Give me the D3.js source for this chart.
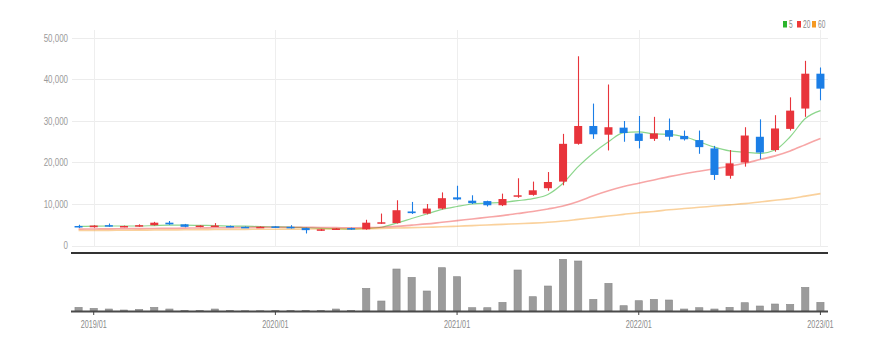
<!DOCTYPE html>
<html>
<head>
<meta charset="utf-8">
<script src="https://cdn.jsdelivr.net/npm/d3@7"></script>
<style>
  html, body { margin: 0; padding: 0; background: #fff; }
  svg { display: block; }
  text { font-family: "Liberation Sans", Arial, sans-serif; }
</style>
</head>
<body>
<svg id="chart" width="875" height="350"></svg>
<script>
// Monthly candles, 2018/12 – 2023/01
const months = d3.range(50).map(i => {
  const d = new Date(2018, 11 + i, 1);
  return d3.timeFormat("%Y/%m")(d);
});

const opens  = [4700,4400,4900,4500,4600,4900,5500,5100,4500,4700,4700,4500,4400,4600,4500,4200,3600,3900,4200,3900,
                5300,5400,8200,7700,8900,11600,10800,10700,9700,11900,12200,13800,15400,24500,28800,26700,28400,27000,25700,27800,
                26400,25400,23400,16800,20000,26200,23000,28100,33000,41400];
const highs  = [5000,4900,5300,4800,5100,5700,5900,5200,4900,5400,4800,4600,4600,4700,4900,4300,4000,4200,4300,6200,
                7700,10900,10500,10000,12800,14400,12100,10800,12500,16200,15400,17700,26900,45600,34200,38800,30000,31200,31000,30600,
                27700,27700,24000,23000,28500,30400,31400,35700,44500,42900];
const lows   = [4200,4300,4500,4400,4500,4800,5000,4400,4400,4600,4400,4300,4300,4300,4100,2900,3500,3900,3800,3800,
                5200,5300,7600,7500,8700,10900,10000,9400,9500,11500,12000,13200,14500,24300,25700,22900,25000,23400,25200,25300,
                25300,22100,15800,16100,19000,20800,22600,27700,31000,35000];
const closes = [4400,4800,4600,4700,4900,5500,5100,4500,4800,4800,4500,4400,4500,4400,4200,3700,3900,4100,3900,5500,
                5600,8500,7800,8900,11400,11100,10200,9700,11200,12100,13300,15300,24500,28800,26800,28500,27100,25200,27000,26200,
                25600,23700,17000,19800,26500,22400,28200,32500,41400,37800];
const volumes = [370,270,200,100,170,370,200,70,70,200,70,30,30,70,70,70,70,200,70,2270,
                 1000,4200,3370,2000,4330,3430,330,330,870,4100,1430,2500,5170,5000,1170,2770,530,1030,1170,1100,
                 200,330,200,370,830,500,700,670,2370,870];

// Moving averages of the close (5, 20 and 60 months)
const ma5  = [4600,4650,4700,4700,4700,4800,4900,4900,4850,4800,4700,4650,4550,4500,4450,4300,4150,4050,3950,4100,
              4400,5400,6500,7600,8700,9400,10000,10200,10400,10800,11300,12300,15000,19000,22300,25000,27200,27400,26900,26800,
              26200,25000,23700,22800,22500,22200,23000,26200,30600,32500];
const ma20 = [3950,3980,4010,4040,4070,4100,4140,4180,4220,4260,4300,4340,4380,4400,4400,4380,4340,4300,4250,4300,
              4400,4600,4900,5200,5600,6000,6400,6800,7200,7700,8200,8800,9500,10600,12000,13200,14200,15000,15800,16600,
              17300,17900,18500,19100,19800,20700,21600,22800,24300,25800];
const ma60 = [3600,3620,3650,3680,3700,3730,3760,3790,3820,3850,3870,3890,3910,3930,3950,3960,3970,3980,4000,4050,
              4100,4200,4300,4400,4500,4650,4800,4950,5100,5250,5400,5600,5900,6300,6700,7100,7500,7900,8200,8600,
              8900,9200,9500,9800,10100,10500,10900,11300,11900,12500];

const priceTicks = [0, 10000, 20000, 30000, 40000, 50000];
const yearTicks = ["2019/01", "2020/01", "2021/01", "2022/01", "2023/01"];
const legendItems = ["5", "20", "60"];

const UP = "#e8343b", DOWN = "#1b7ee6";
const maColors = ["#2db52d", "#ee3a3a", "#f59a23"];

const svg = d3.select("#chart");
const left = 71, right = 828;

const x = d3.scaleBand().domain(months).range([left, right]).paddingInner(0.47).paddingOuter(0.235);
const xc = m => x(m) + x.bandwidth() / 2;
const y = d3.scaleLinear().domain([0, 50000]).range([245.5, 38]);
const yv = d3.scaleLinear().domain([0, 5400]).range([311, 257]);

// horizontal grid + vertical year lines
const grid = svg.append("g");
grid.selectAll("line.h").data(priceTicks).join("line")
  .attr("x1", left + 1).attr("x2", right)
  .attr("y1", d => Math.round(y(d)) + 0.5).attr("y2", d => Math.round(y(d)) + 0.5)
  .attr("stroke", "#ececec").attr("stroke-width", 1);
grid.selectAll("line.v").data(yearTicks).join("line")
  .attr("x1", d => Math.round(xc(d)) + 0.5).attr("x2", d => Math.round(xc(d)) + 0.5)
  .attr("y1", 30).attr("y2", 247)
  .attr("stroke", "#eeeeee").attr("stroke-width", 1);

// price labels (condensed)
svg.append("g").selectAll("text").data(priceTicks).join("text")
  .attr("transform", d => `translate(68,${y(d) + 3.5}) scale(0.76,1)`)
  .attr("text-anchor", "end").attr("font-size", 10.5).attr("fill", "#9a9a9a")
  .text(d => d3.format(",")(d));

// moving average lines
const maSeries = [ma5, ma20, ma60];
const line = d3.line().x((d, i) => xc(months[i])).y(d => y(d)).curve(d3.curveMonotoneX);
svg.append("g").selectAll("path").data(maSeries).join("path")
  .attr("d", d => line(d))
  .attr("fill", "none")
  .attr("stroke", (d, i) => maColors[i])
  .attr("stroke-opacity", (d, i) => i === 0 ? 0.55 : 0.45)
  .attr("stroke-width", (d, i) => i === 0 ? 1.2 : 1.6);

// candles
const candles = svg.append("g").selectAll("g").data(months).join("g");
const colorOf = i => closes[i] >= opens[i] ? UP : DOWN;
candles.append("line")
  .attr("x1", (m) => Math.round(xc(m)) + 0.5).attr("x2", (m) => Math.round(xc(m)) + 0.5)
  .attr("y1", (m, i) => y(highs[i])).attr("y2", (m, i) => y(lows[i]))
  .attr("stroke", (m, i) => colorOf(i)).attr("stroke-width", 1.1);
candles.append("rect")
  .attr("x", m => x(m)).attr("width", x.bandwidth())
  .attr("y", (m, i) => y(Math.max(opens[i], closes[i])))
  .attr("height", (m, i) => Math.max(1.5, Math.abs(y(opens[i]) - y(closes[i]))))
  .attr("fill", (m, i) => colorOf(i));

// pane separator
svg.append("line").attr("x1", left).attr("x2", right).attr("y1", 253).attr("y2", 253)
  .attr("stroke", "#333").attr("stroke-width", 2);

// volume bars
const vbw = x.bandwidth() * 0.9;
svg.append("g").selectAll("rect").data(months).join("rect")
  .attr("x", m => xc(m) - vbw / 2).attr("width", vbw)
  .attr("y", (m, i) => yv(volumes[i])).attr("height", (m, i) => yv(0) - yv(volumes[i]))
  .attr("fill", "#9b9b9b").attr("stroke", "#8a8a8a").attr("stroke-width", 0.6);

// volume baseline and x axis
const xAxis = svg.append("g").attr("transform", "translate(0,311)")
  .call(d3.axisBottom(x).tickValues(yearTicks).tickSize(4).tickPadding(5).tickSizeOuter(0));
xAxis.select(".domain").attr("stroke", "#4a4a4a").attr("stroke-width", 2)
  .attr("d", `M${left},0.5H${right}`);
xAxis.selectAll(".tick line").attr("stroke", "#444");
xAxis.selectAll(".tick text").attr("font-size", 11).attr("fill", "#8a8a8a")
  .attr("transform", "scale(0.66,1)")
  .style("font-family", '"Liberation Sans", Arial, sans-serif');

// legend
const lg = svg.append("g");
const legendX = [783, 797, 812];
legendItems.forEach((t, i) => {
  lg.append("rect").attr("x", legendX[i]).attr("y", 21).attr("width", 4).attr("height", 6.5)
    .attr("fill", maColors[i]);
  lg.append("text").attr("transform", `translate(${legendX[i] + 6},28) scale(0.6,1)`)
    .attr("font-size", 11).attr("fill", "#888").text(t);
});
</script>
</body>
</html>
